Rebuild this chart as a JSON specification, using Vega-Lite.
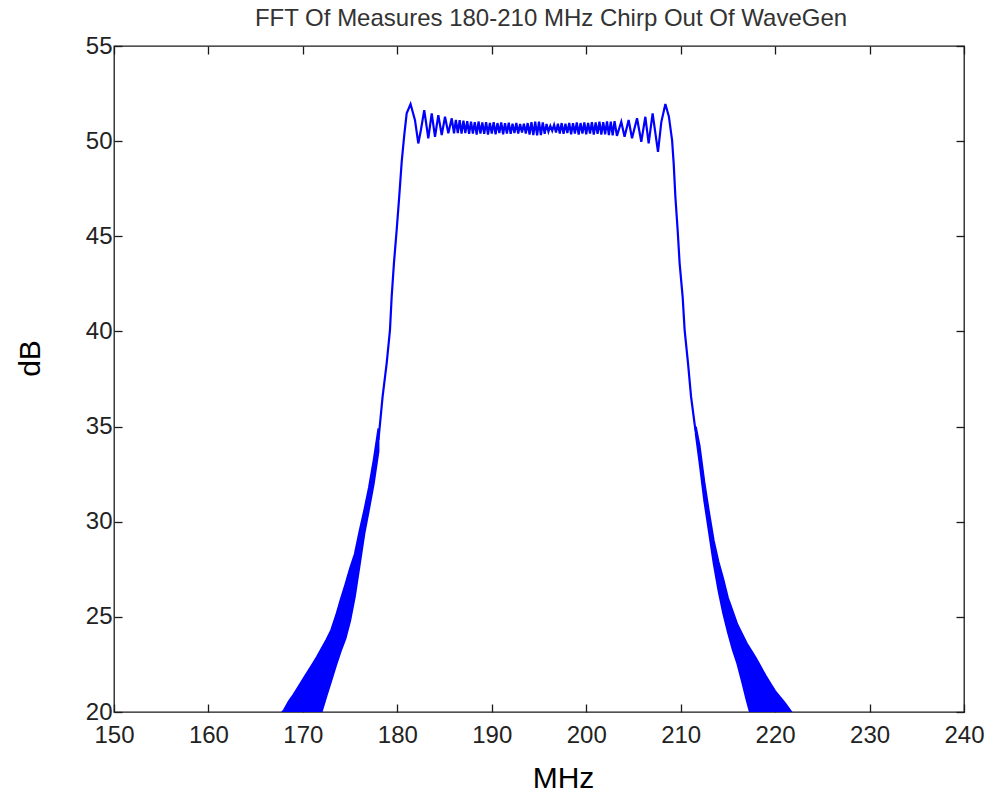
{
  "$schema": "https://vega.github.io/schema/vega-lite/v6.json",
  "width": 850,
  "height": 666,
  "autosize": "none",
  "padding": {"left": 114, "top": 46, "right": 23, "bottom": 81},
  "background": "white",
  "config": {
    "view": {"stroke": "#1a1a1a", "strokeWidth": 1.3},
    "font": "Liberation Sans"
  },
  "title": {
    "text": "FFT Of Measures 180-210 MHz Chirp Out Of WaveGen",
    "fontSize": 24,
    "fontWeight": "normal",
    "font": "Liberation Sans",
    "color": "#333333",
    "offset": 3,
    "dx": 12
  },
  "datasets": {
    "band": [
      {"side": "L", "f": 167.5, "hi": 19.8, "lo": 19},
      {"side": "L", "f": 168, "hi": 20.1, "lo": 19},
      {"side": "L", "f": 168.5, "hi": 20.55, "lo": 19},
      {"side": "L", "f": 169, "hi": 20.9, "lo": 19},
      {"side": "L", "f": 169.5, "hi": 21.3, "lo": 19},
      {"side": "L", "f": 170, "hi": 21.7, "lo": 19},
      {"side": "L", "f": 170.5, "hi": 22.1, "lo": 19},
      {"side": "L", "f": 171, "hi": 22.5, "lo": 19},
      {"side": "L", "f": 171.5, "hi": 22.9, "lo": 19.4},
      {"side": "L", "f": 172, "hi": 23.35, "lo": 20.05},
      {"side": "L", "f": 172.5, "hi": 23.8, "lo": 20.85},
      {"side": "L", "f": 173, "hi": 24.3, "lo": 21.65},
      {"side": "L", "f": 173.5, "hi": 25.05, "lo": 22.45},
      {"side": "L", "f": 174, "hi": 25.9, "lo": 23.2},
      {"side": "L", "f": 174.5, "hi": 26.7, "lo": 23.85},
      {"side": "L", "f": 175, "hi": 27.55, "lo": 24.8},
      {"side": "L", "f": 175.5, "hi": 28.3, "lo": 26.06},
      {"side": "L", "f": 176, "hi": 29.5, "lo": 27.7},
      {"side": "L", "f": 176.5, "hi": 30.6, "lo": 29.35},
      {"side": "L", "f": 177, "hi": 31.8, "lo": 30.65},
      {"side": "L", "f": 177.5, "hi": 33.25, "lo": 32.0},
      {"side": "L", "f": 178, "hi": 34.9, "lo": 33.7},
      {"side": "R", "f": 211.6, "hi": 35.0, "lo": 34.6},
      {"side": "R", "f": 212, "hi": 34.0, "lo": 33.1},
      {"side": "R", "f": 212.5, "hi": 32.1, "lo": 31.1},
      {"side": "R", "f": 213, "hi": 30.5, "lo": 29.45},
      {"side": "R", "f": 213.5, "hi": 29.0, "lo": 27.8},
      {"side": "R", "f": 214, "hi": 27.9, "lo": 26.4},
      {"side": "R", "f": 214.5, "hi": 27.0, "lo": 25.2},
      {"side": "R", "f": 215, "hi": 26.0, "lo": 24.2},
      {"side": "R", "f": 215.5, "hi": 25.3, "lo": 23.3},
      {"side": "R", "f": 216, "hi": 24.6, "lo": 22.55},
      {"side": "R", "f": 216.5, "hi": 24.1, "lo": 21.6},
      {"side": "R", "f": 217, "hi": 23.6, "lo": 20.6},
      {"side": "R", "f": 217.5, "hi": 23.2, "lo": 19.7},
      {"side": "R", "f": 218, "hi": 22.8, "lo": 19},
      {"side": "R", "f": 218.5, "hi": 22.35, "lo": 19},
      {"side": "R", "f": 219, "hi": 21.9, "lo": 19},
      {"side": "R", "f": 219.5, "hi": 21.5, "lo": 19},
      {"side": "R", "f": 220, "hi": 21.1, "lo": 19},
      {"side": "R", "f": 220.5, "hi": 20.8, "lo": 19},
      {"side": "R", "f": 221, "hi": 20.5, "lo": 19},
      {"side": "R", "f": 221.5, "hi": 20.15, "lo": 19},
      {"side": "R", "f": 222, "hi": 19.8, "lo": 19}
    ],
    "trace": [
      {"f": 178.0, "db": 34.3},
      {"f": 178.44, "db": 36.57},
      {"f": 178.87, "db": 38.32},
      {"f": 179.22, "db": 40.07},
      {"f": 179.4, "db": 41.82},
      {"f": 179.64, "db": 43.58},
      {"f": 179.93, "db": 45.33},
      {"f": 180.2, "db": 47.08},
      {"f": 180.46, "db": 48.9},
      {"f": 180.73, "db": 50.3},
      {"f": 180.99, "db": 51.46},
      {"f": 181.4, "db": 51.95},
      {"f": 181.87, "db": 51.1},
      {"f": 182.22, "db": 49.88},
      {"f": 182.5, "db": 50.6},
      {"f": 182.85, "db": 51.63},
      {"f": 183.28, "db": 50.15},
      {"f": 183.64, "db": 51.46},
      {"f": 183.99, "db": 50.23},
      {"f": 184.34, "db": 51.37},
      {"f": 184.7, "db": 50.32},
      {"f": 185.05, "db": 51.28},
      {"f": 185.4, "db": 50.41},
      {"f": 185.76, "db": 51.2},
      {"f": 186.0, "db": 50.41},
      {"f": 186.2, "db": 51.12},
      {"f": 186.4, "db": 50.42},
      {"f": 186.6, "db": 51.1},
      {"f": 186.8, "db": 50.4},
      {"f": 187.0, "db": 51.08},
      {"f": 187.2, "db": 50.42},
      {"f": 187.4, "db": 51.05},
      {"f": 187.6, "db": 50.38},
      {"f": 187.8, "db": 51.02},
      {"f": 188.0, "db": 50.4},
      {"f": 188.2, "db": 51.0},
      {"f": 188.4, "db": 50.35},
      {"f": 188.6, "db": 51.03},
      {"f": 188.8, "db": 50.4},
      {"f": 189.0, "db": 50.98},
      {"f": 189.2, "db": 50.38},
      {"f": 189.4, "db": 51.0},
      {"f": 189.6, "db": 50.35},
      {"f": 189.8, "db": 50.96},
      {"f": 190.0, "db": 50.4},
      {"f": 190.2, "db": 51.0},
      {"f": 190.4, "db": 50.36},
      {"f": 190.6, "db": 50.95},
      {"f": 190.8, "db": 50.42},
      {"f": 191.0, "db": 50.98},
      {"f": 191.2, "db": 50.36},
      {"f": 191.4, "db": 50.94},
      {"f": 191.6, "db": 50.4},
      {"f": 191.8, "db": 50.97},
      {"f": 192.0, "db": 50.38},
      {"f": 192.2, "db": 50.92},
      {"f": 192.4, "db": 50.42},
      {"f": 192.6, "db": 50.95},
      {"f": 192.8, "db": 50.4},
      {"f": 193.0, "db": 50.9},
      {"f": 193.2, "db": 50.45},
      {"f": 193.4, "db": 50.92},
      {"f": 193.6, "db": 50.4},
      {"f": 193.8, "db": 50.95},
      {"f": 194.0, "db": 50.35},
      {"f": 194.2, "db": 51.0},
      {"f": 194.4, "db": 50.32},
      {"f": 194.6, "db": 51.02},
      {"f": 194.8, "db": 50.3},
      {"f": 195.0, "db": 51.02},
      {"f": 195.2, "db": 50.32},
      {"f": 195.4, "db": 50.98},
      {"f": 195.6, "db": 50.38},
      {"f": 195.8, "db": 50.9},
      {"f": 196.0, "db": 50.5},
      {"f": 196.2, "db": 50.8},
      {"f": 196.4, "db": 50.55},
      {"f": 196.6, "db": 50.85},
      {"f": 196.8, "db": 50.45},
      {"f": 197.0, "db": 50.92},
      {"f": 197.2, "db": 50.4},
      {"f": 197.4, "db": 50.95},
      {"f": 197.6, "db": 50.38},
      {"f": 197.8, "db": 50.92},
      {"f": 198.0, "db": 50.42},
      {"f": 198.2, "db": 50.96},
      {"f": 198.4, "db": 50.36},
      {"f": 198.6, "db": 50.94},
      {"f": 198.8, "db": 50.4},
      {"f": 199.0, "db": 50.98},
      {"f": 199.2, "db": 50.35},
      {"f": 199.4, "db": 50.95},
      {"f": 199.6, "db": 50.4},
      {"f": 199.8, "db": 50.98},
      {"f": 200.0, "db": 50.36},
      {"f": 200.2, "db": 50.96},
      {"f": 200.4, "db": 50.4},
      {"f": 200.6, "db": 51.0},
      {"f": 200.8, "db": 50.35},
      {"f": 201.0, "db": 50.98},
      {"f": 201.2, "db": 50.38},
      {"f": 201.4, "db": 51.02},
      {"f": 201.6, "db": 50.34},
      {"f": 201.8, "db": 51.0},
      {"f": 202.0, "db": 50.36},
      {"f": 202.2, "db": 51.04},
      {"f": 202.4, "db": 50.32},
      {"f": 202.6, "db": 51.02},
      {"f": 202.8, "db": 50.3},
      {"f": 203.0, "db": 51.05},
      {"f": 203.25, "db": 50.28},
      {"f": 203.71, "db": 51.02},
      {"f": 204.06, "db": 50.23},
      {"f": 204.49, "db": 51.11},
      {"f": 204.85, "db": 50.15},
      {"f": 205.38, "db": 51.2},
      {"f": 205.83, "db": 49.97},
      {"f": 206.26, "db": 51.28},
      {"f": 206.61, "db": 49.88},
      {"f": 207.03, "db": 51.46},
      {"f": 207.6, "db": 49.44},
      {"f": 207.95, "db": 51.0},
      {"f": 208.38, "db": 51.95},
      {"f": 208.75, "db": 51.3},
      {"f": 209.09, "db": 50.06},
      {"f": 209.26, "db": 48.83},
      {"f": 209.44, "db": 47.08},
      {"f": 209.68, "db": 45.33},
      {"f": 209.89, "db": 43.58},
      {"f": 210.21, "db": 41.82},
      {"f": 210.42, "db": 40.07},
      {"f": 210.78, "db": 38.32},
      {"f": 211.1, "db": 36.57},
      {"f": 211.56, "db": 34.82},
      {"f": 211.7, "db": 34.6}
    ]
  },
  "layer": [
    {
      "data": {"name": "band"},
      "mark": {"type": "area", "color": "#0000FF", "stroke": "#0000FF", "strokeWidth": 2, "clip": true, "opacity": 1},
      "encoding": {
        "x": {
          "field": "f", "type": "quantitative",
          "scale": {"domain": [150, 240], "nice": false, "zero": false},
          "axis": {
            "orient": "bottom",
            "values": [150, 160, 170, 180, 190, 200, 210, 220, 230, 240],
            "tickSize": -8, "tickColor": "#1a1a1a", "tickWidth": 1.3,
            "labelPadding": 19, "labelFontSize": 24, "labelFont": "Liberation Sans",
            "labelColor": "#222222", "labelFlush": false, "labelOverlap": false,
            "domain": false, "grid": false,
            "title": "MHz", "titleFontSize": 30, "titleFontWeight": "normal",
            "titleFont": "Liberation Sans", "titleColor": "#000000",
            "titleX": 449, "titleY": 75, "titleBaseline": "alphabetic", "titleAlign": "center"
          }
        },
        "y": {
          "field": "hi", "type": "quantitative",
          "scale": {"domain": [20, 55], "nice": false, "zero": false},
          "axis": {
            "orient": "left",
            "values": [20, 25, 30, 35, 40, 45, 50, 55],
            "tickSize": -8, "tickColor": "#1a1a1a", "tickWidth": 1.3,
            "labelPadding": 10, "labelFontSize": 24, "labelFont": "Liberation Sans",
            "labelColor": "#222222", "labelFlush": false, "labelOverlap": false,
            "domain": false, "grid": false,
            "title": "dB", "titleFontSize": 30, "titleFontWeight": "normal",
            "titleFont": "Liberation Sans", "titleColor": "#000000",
            "titleX": -84, "titleY": 312, "titleBaseline": "middle", "titleAlign": "center", "titleAngle": 270
          }
        },
        "y2": {"field": "lo"},
        "detail": {"field": "side", "type": "nominal"}
      }
    },
    {
      "data": {"name": "trace"},
      "mark": {"type": "line", "color": "#0000FF", "strokeWidth": 2.2, "clip": true},
      "encoding": {
        "x": {
          "field": "f", "type": "quantitative",
          "axis": {
            "orient": "top",
            "values": [150, 160, 170, 180, 190, 200, 210, 220, 230, 240],
            "tickSize": -8, "tickColor": "#1a1a1a", "tickWidth": 1.3,
            "labels": false, "domain": false, "grid": false, "title": null
          }
        },
        "y": {
          "field": "db", "type": "quantitative",
          "axis": {
            "orient": "right",
            "values": [20, 25, 30, 35, 40, 45, 50, 55],
            "tickSize": -8, "tickColor": "#1a1a1a", "tickWidth": 1.3,
            "labels": false, "domain": false, "grid": false, "title": null
          }
        }
      }
    }
  ],
  "resolve": {"axis": {"x": "independent", "y": "independent"}}
}
